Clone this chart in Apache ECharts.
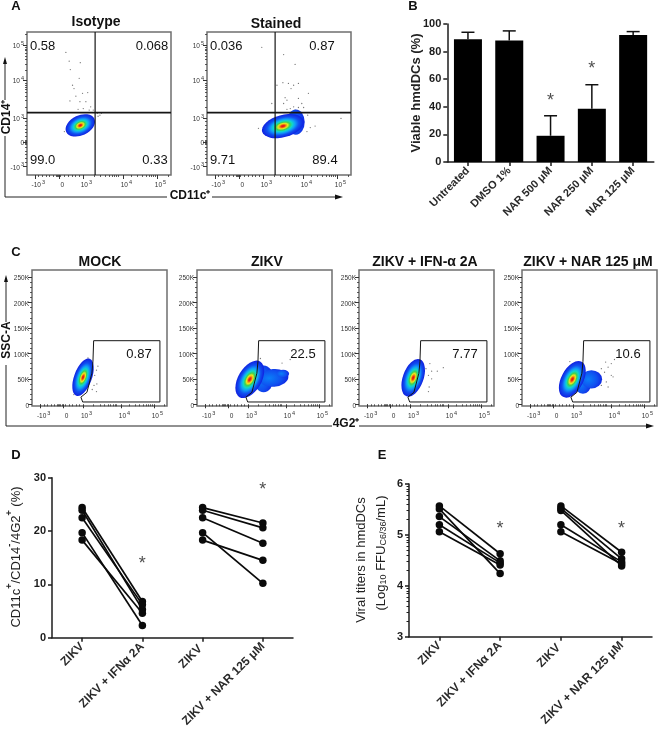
<!DOCTYPE html>
<html>
<head>
<meta charset="utf-8">
<style>
html, body { margin: 0; padding: 0; background: #fff; }
#chart { width: 658px; height: 730px; }
</style>
<script src="https://cdn.jsdelivr.net/npm/echarts@6/dist/echarts.min.js"></script>
</head>
<body>
<div id="chart"></div>
<script>
// panel B
const viabilityCategories = ['Untreated', 'DMSO 1%', 'NAR 500 μM', 'NAR 250 μM', 'NAR 125 μM'];
const viabilityMeans = [89, 88, 19, 38.5, 92];
const viabilityErrorTops = [94, 95, 33.5, 56, 94.5];
const viabilityStars = [[2, 46], [3, 69.5]];

// panel D
const pairCategoriesD = ['ZIKV', 'ZIKV + IFNα 2A', 'ZIKV ', 'ZIKV + NAR 125 μM'];
const percentZikvIfn = [24.4, 23.9, 22.5, 19.7, 18.3];
const percentIfn = [6.8, 5.3, 6.2, 2.3, 4.6];
const percentZikvNar = [24.4, 23.9, 22.5, 19.7, 18.3];
const percentNar = [21.5, 20.6, 17.7, 10.2, 14.5];
const percentStars = [[1, 14.4], [3, 28.3]];

// panel E
const titerZikvIfn = [5.57, 5.51, 5.36, 5.2, 5.06];
const titerIfn = [4.63, 4.24, 4.49, 4.45, 4.41];
const titerZikvNar = [5.57, 5.52, 5.48, 5.2, 5.06];
const titerNar = [4.66, 4.53, 4.39, 4.47, 4.43];
const titerStars = [[1, 5.17], [3, 5.17]];
const titerMinorTicks = [3.3, 3.48, 3.6, 3.7, 3.78, 3.85, 3.9, 3.95, 4.3, 4.48, 4.6, 4.7, 4.78, 4.85, 4.9, 4.95, 5.3, 5.48, 5.6, 5.7, 5.78, 5.85, 5.9, 5.95];

// flow plots: axis values are biexponential display units (3 = 10^3, 5 = 10^5)
const cdXTicks = [1.70, 2.35, 3, 4.08, 5];
const cdYTicks = [1.68, 2.34, 3, 4.04, 5];
const biexLabels = ['{b|-10}{s|3}', '{b|0}', '{b|10}{s|3}', '{b|10}{s|4}', '{b|10}{s|5}'];
const gateXTicks = [1.79, 2.44, 3, 4.07, 5];
const sscTicks = [0, 50, 100, 150, 200, 250];
const sscLabels = ['0', '50K', '100K', '150K', '200K', '250K'];
const biexMinorTicks = [1.8, 1.9, 2.0, 2.1, 2.2, 2.28, 2.31, 2.34, 2.37, 2.4, 2.5, 2.6, 2.7, 2.8, 2.9, 3.3, 3.48, 3.6, 3.7, 3.78, 3.85, 3.9, 3.95, 4.3, 4.48, 4.6, 4.7, 4.78, 4.85, 4.9, 4.95, 5.3];
const sscMinorTicks = [10, 20, 30, 40, 60, 70, 80, 90, 110, 120, 130, 140, 160, 170, 180, 190, 210, 220, 230, 240];

const isotypeGates = ['0.58', '0.068', '99.0', '0.33'];
const stainedGates = ['0.036', '0.87', '9.71', '89.4'];
const stimGates = ['0.87', '22.5', '7.77', '10.6'];
const stimTitles = ['MOCK', 'ZIKV', 'ZIKV + IFN-α 2A', 'ZIKV + NAR 125 μM'];
const quadrantX = 3.33;
const quadrantY = 3.15;
const gateOutline = [[3.3, 125], [3.28, 84], [3.25, 61], [3.11, 23.5], [2.94, 14], [2.99, 4.5], [5.17, 4.5], [5.17, 125], [3.3, 125]];

// density clouds: x, y, long radius, short radius (decades), angle, layer (0 core, 1 tail)
const isotypeCloud = [[2.93, 2.80, 0.42, 0.27, 25, 0]];
const stainedCloud = [[3.89, 2.89, 0.24, 0.34, 0, 1], [3.54, 2.78, 0.58, 0.30, 15, 0]];
const mockCloud = [[3.0, 53, 0.555, 0.25, 70, 0]];
const zikvCloud = [[3.44, 50, 0.28, 0.38, 0, 1], [3.72, 52, 0.42, 0.25, 5, 1], [3.99, 60, 0.17, 0.11, 0, 1], [3.05, 49, 0.58, 0.33, 60, 0]];
const ifnCloud = [[3.09, 52, 0.555, 0.29, 70, 0]];
const narCloud = [[3.28, 40, 0.23, 0.28, 0, 1], [3.52, 49, 0.30, 0.26, 0, 1], [2.98, 49, 0.56, 0.31, 62, 0]];

// sparse events outside the clouds
const isotypeDots = [[2.54, 4.80], [2.63, 4.56], [2.66, 4.33], [2.93, 4.52], [2.90, 4.09], [2.72, 3.90], [2.76, 3.81], [3.13, 3.70], [2.99, 3.68], [2.81, 3.60], [2.65, 3.47], [2.92, 3.45], [3.08, 3.45], [3.21, 3.31], [2.87, 3.24], [3.01, 3.26], [3.17, 3.22], [3.28, 3.22], [3.46, 3.08], [3.39, 3.13], [3.50, 3.13], [3.41, 3.05], [2.50, 2.63]];
const stainedDots = [[2.97, 4.94], [3.56, 4.74], [3.87, 4.47], [3.96, 3.95], [3.54, 3.97], [3.69, 3.95], [3.38, 3.90], [3.83, 3.90], [3.76, 3.81], [4.23, 3.68], [3.60, 3.56], [3.65, 3.49], [3.96, 3.54], [3.24, 3.40], [3.56, 3.40], [4.05, 3.40], [3.83, 3.31], [3.74, 3.26], [3.96, 3.29], [4.10, 3.29], [3.65, 3.24], [3.87, 3.22], [4.21, 3.08], [4.41, 2.78], [4.28, 2.74], [4.19, 2.63], [2.88, 2.72], [5.11, 2.99]];
const mockDots = [[3.42, 75], [3.38, 67], [3.33, 57], [3.39, 40], [3.26, 29], [3.38, 25], [3.31, 37], [3.14, 91], [2.74, 19]];
const zikvDots = [[3.96, 81], [4.19, 88], [3.35, 90], [2.92, 19]];
const ifnDots = [[3.94, 72], [3.77, 65], [3.61, 65], [3.52, 57], [3.61, 50], [3.54, 34], [3.52, 25], [3.56, 80], [3.45, 70]];
const narDots = [[4.17, 88], [4.08, 80], [3.92, 83], [3.99, 73], [3.80, 70], [4.08, 57], [3.89, 63], [4.13, 54], [3.94, 44], [3.80, 37], [3.99, 34], [2.91, 84]];

const FONT = '"Liberation Sans", Arial, sans-serif';
const INK = '#1c1c1c';

const cloudFills = [
    new echarts.graphic.RadialGradient(0.5, 0.5, 0.5, [
        { offset: 0, color: '#d8101a' }, { offset: 0.09, color: '#f03010' }, { offset: 0.16, color: '#f0a010' },
        { offset: 0.23, color: '#e8e820' }, { offset: 0.33, color: '#40d050' }, { offset: 0.45, color: '#10d8c8' },
        { offset: 0.58, color: '#10a0f8' }, { offset: 0.76, color: '#1050f0' }, { offset: 1, color: '#1020e0' }
    ]),
    new echarts.graphic.RadialGradient(0.35, 0.5, 0.7, [
        { offset: 0, color: '#0a80f8' }, { offset: 0.6, color: '#1050f0' }, { offset: 1, color: '#1020e0' }
    ])
];

function renderCloud(params, api) {
    const c = api.coord([api.value(0), api.value(1)]);
    const a = api.size([api.value(2), 0])[0];
    const b = api.size([api.value(3), 0])[0];
    return {
        type: 'circle',
        shape: { cx: 0, cy: 0, r: 50 },
        x: c[0], y: c[1],
        scaleX: a / 50, scaleY: b / 50,
        rotation: api.value(4) * Math.PI / 180,
        style: { fill: cloudFills[api.value(5)] }
    };
}

function renderErrorBar(params, api) {
    const top = api.coord([api.value(0), api.value(1)]);
    const base = api.coord([api.value(0), api.value(2)]);
    const cap = 6.5;
    const lineStyle = { stroke: '#111', lineWidth: 1.5, fill: null };
    return {
        type: 'group',
        children: [
            { type: 'line', shape: { x1: top[0], y1: top[1], x2: base[0], y2: base[1] }, style: lineStyle },
            { type: 'line', shape: { x1: top[0] - cap, y1: top[1], x2: top[0] + cap, y2: top[1] }, style: lineStyle }
        ]
    };
}

const grid = [], xAxis = [], yAxis = [], series = [], graphic = [];

function addText(x, y, text, size, weight, extra) {
    graphic.push(Object.assign({
        type: 'text', x: x, y: y, silent: true,
        style: Object.assign({ text: text, font: (weight || 'normal') + ' ' + size + 'px ' + FONT, fill: '#111', align: 'center', verticalAlign: 'middle' }, (extra && extra.style) || {})
    }, extra && extra.rotation ? { rotation: extra.rotation } : {}));
}

function flowPanel(box, xTicks, xRange, yTicks, yLabels, yRange, yMinor, cloud, dots, lines) {
    const g = grid.length;
    const axisBase = { axisLine: { show: false }, splitLine: { show: false } };
    grid.push({ left: box[0], top: box[1], width: box[2], height: box[3], show: true, borderColor: '#6f6f6f', borderWidth: 1.5, backgroundColor: '#fff' });
    const rich = {
        b: { fontFamily: FONT, fontSize: 6.5, color: '#333', lineHeight: 10, verticalAlign: 'bottom' },
        s: { fontFamily: FONT, fontSize: 5.5, color: '#333', lineHeight: 10, verticalAlign: 'top', padding: [0, 0, 0, 1] }
    };
    const x0 = xAxis.length;
    xAxis.push(Object.assign({}, axisBase, {
        type: 'value', gridIndex: g, min: xRange[0], max: xRange[1], position: 'bottom',
        axisTick: { show: true, length: 4, lineStyle: { color: '#333', width: 1 }, customValues: xTicks },
        axisLabel: {
            show: true, margin: 4, padding: [0, 0, 0, 7], rich: rich, customValues: xTicks,
            formatter: function (v) { return biexLabels[xTicks.indexOf(v)]; }
        }
    }));
    xAxis.push(Object.assign({}, axisBase, {
        type: 'value', gridIndex: g, min: xRange[0], max: xRange[1], position: 'bottom',
        axisTick: { show: true, length: 2, lineStyle: { color: '#333', width: 0.8 }, customValues: biexMinorTicks },
        axisLabel: { show: false }
    }));
    const y0 = yAxis.length;
    yAxis.push(Object.assign({}, axisBase, {
        type: 'value', gridIndex: g, min: yRange[0], max: yRange[1], position: 'left',
        axisTick: { show: true, length: 4, lineStyle: { color: '#333', width: 1 }, customValues: yTicks },
        axisLabel: {
            show: true, margin: 3, rich: rich, customValues: yTicks,
            formatter: function (v) { return yLabels[yTicks.indexOf(v)]; }
        }
    }));
    yAxis.push(Object.assign({}, axisBase, {
        type: 'value', gridIndex: g, min: yRange[0], max: yRange[1], position: 'left',
        axisTick: { show: true, length: 2, lineStyle: { color: '#333', width: 0.8 }, customValues: yMinor },
        axisLabel: { show: false }
    }));
    series.push({
        type: 'scatter', xAxisIndex: x0, yAxisIndex: y0, data: dots, symbolSize: 1.3, z: 2,
        itemStyle: { color: '#555', opacity: 0.8 }, silent: true, animation: false
    });
    series.push({
        type: 'custom', xAxisIndex: x0, yAxisIndex: y0, data: cloud, renderItem: renderCloud, z: 3,
        encode: { x: 0, y: 1 }, silent: true, animation: false
    });
    lines.forEach(function (l) {
        series.push({
            type: 'line', xAxisIndex: x0, yAxisIndex: y0, data: l.data, symbol: 'none', z: 4,
            lineStyle: { color: '#151515', width: l.width }, silent: true, animation: false
        });
    });
}

function pairedLines(x0, y0, starts, ends, offset) {
    starts.forEach(function (v, i) {
        const row = [null, null, null, null];
        row[offset] = v;
        row[offset + 1] = ends[i];
        series.push({
            type: 'line', xAxisIndex: x0, yAxisIndex: y0, data: row, symbol: 'circle', symbolSize: 7.5, connectNulls: false,
            itemStyle: { color: '#0a0a0a' }, lineStyle: { color: '#0a0a0a', width: 1.7 }, z: 4, silent: true, animation: false
        });
    });
}

function starSeries(x0, y0, data) {
    series.push({
        type: 'scatter', xAxisIndex: x0, yAxisIndex: y0, data: data, symbolSize: 0, z: 5, silent: true, animation: false,
        label: { show: true, position: 'inside', offset: [0, 3], formatter: '*', fontFamily: FONT, fontSize: 18, color: '#222' }
    });
}

function plotAxes(box, cats, yMin, yMax, yInterval, labelFont) {
    const g = grid.length;
    grid.push({ left: box[0], top: box[1], width: box[2], height: box[3] });
    const axisLine = { show: true, lineStyle: { color: INK, width: 1.5 } };
    const tick = { show: true, length: 4, lineStyle: { color: INK, width: 1.5 } };
    xAxis.push({
        type: 'category', gridIndex: g, data: cats, axisLine: axisLine,
        axisTick: Object.assign({ alignWithLabel: true }, tick),
        axisLabel: Object.assign({ rotate: 45, interval: 0, margin: 7, fontFamily: FONT, color: '#2a2a2a' }, labelFont)
    });
    yAxis.push({
        type: 'value', gridIndex: g, min: yMin, max: yMax, interval: yInterval, axisLine: axisLine, axisTick: tick,
        splitLine: { show: false },
        axisLabel: { margin: 6, fontFamily: FONT, fontSize: 11, fontWeight: 'bold', color: INK }
    });
    return [xAxis.length - 1, yAxis.length - 1];
}

// ---- A ----
const cdXRange = [1.49, 5.38], cdYRange = [1.44, 5.36];
function quadrantLines() {
    return [
        { width: 1.2, data: [[quadrantX, cdYRange[0]], [quadrantX, cdYRange[1]]] },
        { width: 1.6, data: [[cdXRange[0], quadrantY], [cdXRange[1], quadrantY]] }
    ];
}
flowPanel([27, 32, 144, 143], cdXTicks, cdXRange, cdYTicks, biexLabels, cdYRange, biexMinorTicks, isotypeCloud, isotypeDots, quadrantLines());
flowPanel([207, 32, 144, 143], cdXTicks, cdXRange, cdYTicks, biexLabels, cdYRange, biexMinorTicks, stainedCloud, stainedDots, quadrantLines());

addText(96, 22, 'Isotype', 14, 'bold');
addText(276, 24, 'Stained', 14, 'bold');
[[27, isotypeGates], [207, stainedGates]].forEach(function (p) {
    const left = p[0];
    [[3, 46, 'left'], [125, 46, 'center'], [3, 160, 'left'], [128, 160, 'center']].forEach(function (spot, i) {
        const dx = (left === 207 && i % 2 === 1) ? -10 : 0;
        addText(left + spot[0] + dx, spot[1], p[1][i], 13, 'normal', { style: { align: spot[2] } });
    });
});

// ---- C ----
const gateXRange = [1.56, 5.37], sscRange = [-3.4, 264];
[[32, mockCloud, mockDots], [197, zikvCloud, zikvDots], [359, ifnCloud, ifnDots], [522, narCloud, narDots]].forEach(function (p, i) {
    flowPanel([p[0], 270, 135, 136], gateXTicks, gateXRange, sscTicks, sscLabels.map(function (s) { return '{b|' + s + '}'; }), sscRange, sscMinorTicks, p[1], p[2],
        [{ width: 1, data: gateOutline }]);
});
[[100, 0], [267, 1], [425, 2], [588, 3]].forEach(function (p) {
    addText(p[0], 262, stimTitles[p[1]], 14, 'bold');
});
[139, 303, 465, 628].forEach(function (x, i) { addText(x, 354, stimGates[i], 13); });

// ---- B ----
const b = plotAxes([447.3, 24, 206.5, 138], viabilityCategories, 0, 100, 20, { fontSize: 11, fontWeight: 'bold' });
series.push({
    type: 'bar', xAxisIndex: b[0], yAxisIndex: b[1], data: viabilityMeans, barWidth: 28, z: 2,
    itemStyle: { color: '#000' }, silent: true, animation: false
});
series.push({
    type: 'custom', xAxisIndex: b[0], yAxisIndex: b[1], renderItem: renderErrorBar, z: 3, silent: true, animation: false,
    encode: { x: 0, y: 1 },
    data: viabilityCategories.map(function (c, i) { return [i, viabilityErrorTops[i], viabilityMeans[i]]; })
});
starSeries(b[0], b[1], viabilityStars);

// ---- D ----
const d = plotAxes([52, 477.7, 241, 160], pairCategoriesD, 0, 30, 10, { fontSize: 12, fontWeight: 'bold' });
pairedLines(d[0], d[1], percentZikvIfn, percentIfn, 0);
pairedLines(d[0], d[1], percentZikvNar, percentNar, 2);
starSeries(d[0], d[1], percentStars);

// ---- E ----
const e = plotAxes([409, 484, 243, 152.7], pairCategoriesD, 3, 6, 1, { fontSize: 12, fontWeight: 'bold' });
yAxis.push({
    type: 'value', gridIndex: grid.length - 1, min: 3, max: 6, position: 'left',
    axisLine: { show: false }, splitLine: { show: false }, axisLabel: { show: false },
    axisTick: { show: true, length: 2.5, lineStyle: { color: INK, width: 1 }, customValues: titerMinorTicks }
});
pairedLines(e[0], e[1], titerZikvIfn, titerIfn, 0);
pairedLines(e[0], e[1], titerZikvNar, titerNar, 2);
starSeries(e[0], e[1], titerStars);

// ---- panel letters ----
[['A', 16, 6], ['B', 413, 6], ['C', 16, 252], ['D', 16, 455], ['E', 382, 455]].forEach(function (l) {
    addText(l[1], l[2], l[0], 13, 'bold');
});

// ---- axis titles ----
const up = Math.PI / 2;
const supRich = {
    n: { font: 'normal 13px ' + FONT, fill: '#222', lineHeight: 18, verticalAlign: 'bottom' },
    s: { font: 'bold 9px ' + FONT, fill: '#222', lineHeight: 18, verticalAlign: 'top' },
    l: { font: 'normal 9px ' + FONT, fill: '#222', lineHeight: 18, verticalAlign: 'bottom' }
};
addText(416, 93, 'Viable hmdDCs (%)', 13, 'bold', { rotation: up, style: { fill: '#222' } });
addText(14, 557, '{n|CD11c}{s|+}{n|/CD14}{s|-}{n|/4G2}{s|+}{n| (%)}', 13, 'normal', { rotation: up, style: { rich: supRich } });
addText(361, 560, 'Viral titers in hmdDCs', 13, 'normal', { rotation: up, style: { fill: '#222' } });
addText(379, 553, '{n|(Log}{l|10}{n| FFU}{l|C6/36}{n|/mL)}', 13, 'normal', { rotation: up, style: { rich: supRich } });

// ---- flow axis arrows ----
function arrowLine(points) {
    graphic.push({ type: 'polyline', silent: true, shape: { points: points }, style: { stroke: '#222', lineWidth: 1, fill: null } });
}
function arrowHead(points) {
    graphic.push({ type: 'polygon', silent: true, shape: { points: points }, style: { fill: '#111' } });
}
arrowLine([[5, 100], [5, 62]]);
arrowHead([[5, 57], [3, 64], [7, 64]]);
arrowLine([[5, 136], [5, 197], [167, 197]]);
arrowLine([[212, 197], [336, 197]]);
arrowHead([[343, 197], [335, 194.5], [335, 199.5]]);
addText(7, 117, 'CD14⁺', 12, 'bold', { rotation: up });
addText(190, 196, 'CD11c⁺', 12, 'bold');

arrowLine([[6, 322], [6, 280]]);
arrowHead([[6, 275], [4, 282], [8, 282]]);
arrowLine([[6, 365], [6, 426], [332, 426]]);
arrowLine([[359, 426], [647, 426]]);
arrowHead([[654, 426], [646, 423.5], [646, 428.5]]);
addText(7, 340, 'SSC-A', 12, 'bold', { rotation: up });
addText(346, 424, '4G2⁺', 12, 'bold');

const chart = echarts.init(document.getElementById('chart'), null, { renderer: 'canvas' });
chart.setOption({
    backgroundColor: '#fff',
    animation: false,
    textStyle: { fontFamily: FONT },
    grid: grid, xAxis: xAxis, yAxis: yAxis, series: series,
    graphic: { elements: graphic }
});
</script>
</body>
</html>
